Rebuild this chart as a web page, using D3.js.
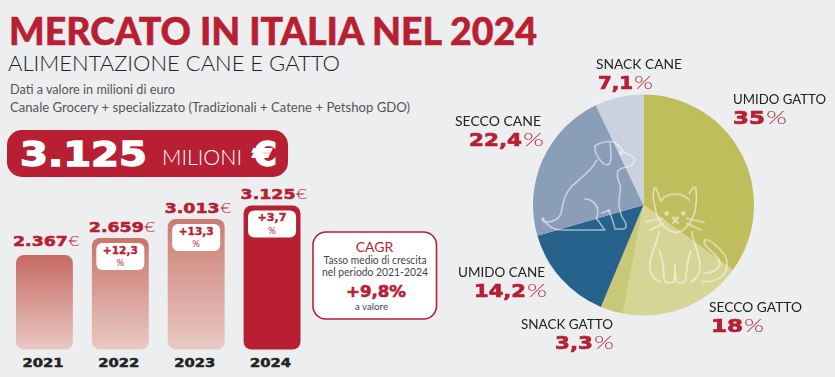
<!DOCTYPE html>
<html>
<head>
<meta charset="utf-8">
<script src="https://cdn.jsdelivr.net/npm/d3@7"></script>
<style>
  html, body { margin: 0; padding: 0; background: #edeeef; }
  svg { display: block; }
  text { font-family: Lato, sans-serif; }
  .wide { font-family: "DejaVu Sans", sans-serif; font-weight: 700; }
</style>
</head>
<body>
<svg id="chart" width="835" height="377"></svg>
<script>
/* DATA */
const years = ["2021", "2022", "2023", "2024"];
const marketValues = [2367, 2659, 3013, 3125];
const valueLabels = ["2.367", "2.659", "3.013", "3.125"];
const growthLabels = [null, "+12,3", "+13,3", "+3,7"];

const pieLabels = ["UMIDO GATTO", "SECCO GATTO", "SNACK GATTO", "UMIDO CANE", "SECCO CANE", "SNACK CANE"];
const pieShares = [35, 18, 3.3, 14.2, 22.4, 7.1];
const pieShareLabels = ["35", "18", "3,3", "14,2", "22,4", "7,1"];
const pieColors = ["#bfbd5c", "#d6d596", "#c9c878", "#27628c", "#8b9eb8", "#cad1df"];

const red = "#b81f33";
const svg = d3.select("#chart");

// wide heavy numbers, stretched to the measured width
function wideText(parent, x, y, size, width, str, anchor, fill) {
  return parent.append("text")
    .attr("class", "wide")
    .attr("x", x).attr("y", y)
    .attr("font-size", size)
    .attr("text-anchor", anchor || "start")
    .attr("fill", fill || red)
    .attr("stroke", fill || red)
    .attr("stroke-width", size * 0.04)
    .attr("textLength", width)
    .attr("lengthAdjust", "spacingAndGlyphs")
    .text(str);
}

function plainText(parent, x, y, size, str, anchor, fill, weight) {
  return parent.append("text")
    .attr("x", x).attr("y", y)
    .attr("font-size", size)
    .attr("text-anchor", anchor || "start")
    .attr("fill", fill || "#222")
    .attr("font-weight", weight || 400)
    .text(str);
}

/* HEADER */
plainText(svg, 9, 44.5, 38.5, "MERCATO IN ITALIA NEL 2024", "start", red, 900)
  .attr("stroke", red).attr("stroke-width", 0.5)
  .attr("textLength", 528).attr("lengthAdjust", "spacingAndGlyphs");
plainText(svg, 8, 71, 21, "ALIMENTAZIONE CANE E GATTO", "start", "#222", 300)
  .attr("textLength", 332).attr("lengthAdjust", "spacingAndGlyphs");
plainText(svg, 10, 94, 13, "Dati a valore in milioni di euro", "start", "#555")
  .attr("textLength", 165).attr("lengthAdjust", "spacingAndGlyphs");
plainText(svg, 10, 112, 13, "Canale Grocery + specializzato (Tradizionali + Catene + Petshop GDO)", "start", "#555")
  .attr("textLength", 400).attr("lengthAdjust", "spacingAndGlyphs");

svg.append("rect")
  .attr("x", 7).attr("y", 130)
  .attr("width", 281).attr("height", 47)
  .attr("rx", 15).attr("fill", red);
wideText(svg, 20, 166, 33, 127, "3.125", "start", "#fff");
plainText(svg, 162, 165, 22, "MILIONI", "start", "#fff", 300).attr("textLength", 80).attr("lengthAdjust", "spacingAndGlyphs");
wideText(svg, 253, 166, 33, 24, "€", "start", "#fff");

/* BARS */
const x = d3.scaleBand()
  .domain(years)
  .range([16, 300.5])
  .paddingInner(0.25)
  .paddingOuter(0);

// the bars in the source are not quite proportional,
// so the scale goes through one stop per value
const y = d3.scaleLinear()
  .domain(marketValues)
  .range([255, 238, 219, 205.5]);
const barBottom = 349.5;

const defs = svg.append("defs");
const barFades = [["#c56a62", "#e9c9c4"], ["#c9756c", "#e9c9c4"], ["#cb7b72", "#e9c9c4"], [red, red]];
barFades.forEach((stops, i) => {
  const grad = defs.append("linearGradient")
    .attr("id", "barFade" + i)
    .attr("x1", 0).attr("y1", 0).attr("x2", 0).attr("y2", 1);
  grad.append("stop").attr("offset", "0%").attr("stop-color", stops[0]);
  grad.append("stop").attr("offset", "100%").attr("stop-color", stops[1]);
});

const barG = svg.append("g");
barG.selectAll("rect.bar")
  .data(years)
  .join("rect")
    .attr("class", "bar")
    .attr("x", d => x(d))
    .attr("y", (d, i) => y(marketValues[i]))
    .attr("width", x.bandwidth())
    .attr("height", (d, i) => barBottom - y(marketValues[i]))
    .attr("rx", 8)
    .attr("fill", (d, i) => `url(#barFade${i})`);

years.forEach((yr, i) => {
  const cx = x(yr) + x.bandwidth() / 2;
  const top = y(marketValues[i]);

  // value above the bar
  const labelY = top - (i === 0 ? 9.3 : 6.3);
  wideText(barG, cx - 31.5, labelY, 14, 55, valueLabels[i]);
  plainText(barG, cx + 24, labelY, 14, "€", "start", red, 300)
    .attr("textLength", 11).attr("lengthAdjust", "spacingAndGlyphs");

  // growth badge
  if (growthLabels[i]) {
    barG.append("rect")
      .attr("x", cx - 24).attr("y", top + 5)
      .attr("width", 48).attr("height", 27)
      .attr("rx", 6).attr("fill", "#fff");
    wideText(barG, cx, top + 15.5, 10, growthLabels[i].length > 4 ? 35 : 29, growthLabels[i], "middle");
    plainText(barG, cx, top + 28, 9.5, "%", "middle", red, 400);
  }

  // year under the bar
  wideText(barG, cx - 1.5, 367, 12.5, 41, yr, "middle", "#222");
});

/* CAGR BOX */
const cagr = svg.append("g");
cagr.append("rect")
  .attr("x", 313).attr("y", 232)
  .attr("width", 123.5).attr("height", 87)
  .attr("rx", 13)
  .attr("fill", "#fff").attr("stroke", red).attr("stroke-width", 1.6);
plainText(cagr, 374.5, 252, 14, "CAGR", "middle", red, 400);
plainText(cagr, 375, 263.5, 10.5, "Tasso medio di crescita", "middle", "#444").attr("textLength", 103).attr("lengthAdjust", "spacingAndGlyphs");
plainText(cagr, 375, 276, 10.5, "nel periodo 2021-2024", "middle", "#444").attr("textLength", 106).attr("lengthAdjust", "spacingAndGlyphs");
wideText(cagr, 376, 296.7, 15, 60, "+9,8%", "middle");
plainText(cagr, 371.5, 310, 9, "a valore", "middle", "#444").attr("textLength", 33).attr("lengthAdjust", "spacingAndGlyphs");

/* PIE */
const cx = 643.5, cy = 205, radius = 110.5;
const pie = d3.pie().sort(null).value(d => d);
const arc = d3.arc().innerRadius(0).outerRadius(radius);
const pieG = svg.append("g").attr("transform", `translate(${cx},${cy})`);
pieG.selectAll("path")
  .data(pie(pieShares))
  .join("path")
    .attr("d", arc)
    .attr("fill", (d, i) => pieColors[i]);

// dog and cat outlines on top of the pie
const icons = svg.append("g")
  .attr("fill", "none").attr("stroke", "#fff")
  .attr("stroke-linecap", "round").attr("stroke-linejoin", "round")
  .attr("opacity", 0.55);

const dog = icons.append("g").attr("stroke-width", 1.5);
dog.append("path").attr("d", "M595 146 C600 142 608 141 613 142 C618 143 620 148 623 151 C627 155 632 155 634 158 C636 162 632 166 627 167 C623 168 620 168 618 171 C616 175 618 180 620 185 C622 191 618 197 619 205 C620 212 621 217 624 220 C627 224 627 229 623 229 L615 229 C613 222 612 216 608 210");
dog.append("path").attr("d", "M595 146 C594 150 597 157 601 161 C604 165 608 166 610 163 C612 158 611 150 610 143");
dog.append("path").attr("d", "M597 160 C592 170 581 178 572 186 C564 194 563 204 561 213 C559 220 553 222 546 222 C543 222 541 220 543 218");
dog.append("path").attr("d", "M543 218 C546 225 553 230 562 230 L605 230 C601 226 600 222 596 218");
dog.append("path").attr("d", "M585 199 C592 199 598 205 598 212 C597 216 596 219 598 221 M602 213 L610 210");
dog.append("circle").attr("cx", 621).attr("cy", 153).attr("r", 1.2).attr("fill", "#fff");

// cat traced at 3x, scaled down
const cat = icons.append("g")
  .attr("transform", "translate(640,180) scale(0.3333)")
  .attr("stroke-width", 5);
cat.append("path").attr("d", "M62 62 C75 48 90 42 105 42 C122 42 138 50 148 60");
cat.append("path").attr("d", "M62 62 C56 48 52 32 47 24 C42 20 40 30 40 45 C39 60 42 72 46 85 C50 118 72 150 108 158 C135 155 158 125 166 90 C169 70 170 40 167 25 C163 18 156 25 148 40");
cat.append("path").attr("d", "M18 125 L68 115 M30 150 L70 130 M192 127 L140 115 M183 150 L140 130");
cat.append("path").attr("d", "M58 155 C52 180 40 205 30 245 C26 275 38 300 62 305 M58 212 C68 235 72 265 72 298 C74 310 96 312 102 305 C106 290 104 270 104 254 C105 272 106 292 110 305 C115 312 134 310 137 300 C140 270 142 240 152 212 M155 155 C160 185 175 215 180 250 C182 275 172 295 155 305");
cat.append("path").attr("d", "M195 180 C190 186 193 194 203 203 C222 220 240 235 240 252 C238 268 215 280 190 280 M195 180 C210 176 222 192 240 208 C258 225 264 245 260 265 C252 295 220 306 185 305");
cat.append("circle").attr("cx", 80).attr("cy", 100).attr("r", 4.5).attr("fill", "#fff");
cat.append("circle").attr("cx", 130).attr("cy", 100).attr("r", 4.5).attr("fill", "#fff");
cat.append("path").attr("d", "M97 113 L115 113 L106 122 Z M106 122 L98 130 M106 122 L115 130");

/* PIE LABELS */
const labelPos = [
  { x: 733, y: 104, n: 93, vx: 733, v: 32, pct: 21 },
  { x: 709, y: 312, n: 93, vx: 711, v: 32, pct: 20 },
  { x: 521, y: 329, n: 92, vx: 555, v: 38, pct: 20 },
  { x: 458, y: 277, n: 87, vx: 474, v: 52, pct: 20 },
  { x: 455, y: 126, n: 86, vx: 469, v: 53, pct: 21 },
  { x: 596, y: 69, n: 86, vx: 598, v: 35, pct: 19 }
];
pieLabels.forEach((name, i) => {
  const p = labelPos[i];
  plainText(svg, p.x, p.y, 14, name, "start", "#222").attr("textLength", p.n).attr("lengthAdjust", "spacingAndGlyphs");
  wideText(svg, p.vx, p.y + 20, 17.5, p.v, pieShareLabels[i]);
  plainText(svg, p.vx + p.v + 1, p.y + 20, 18, "%", "start", red, 300).attr("textLength", p.pct).attr("lengthAdjust", "spacingAndGlyphs");
});
</script>
</body>
</html>
